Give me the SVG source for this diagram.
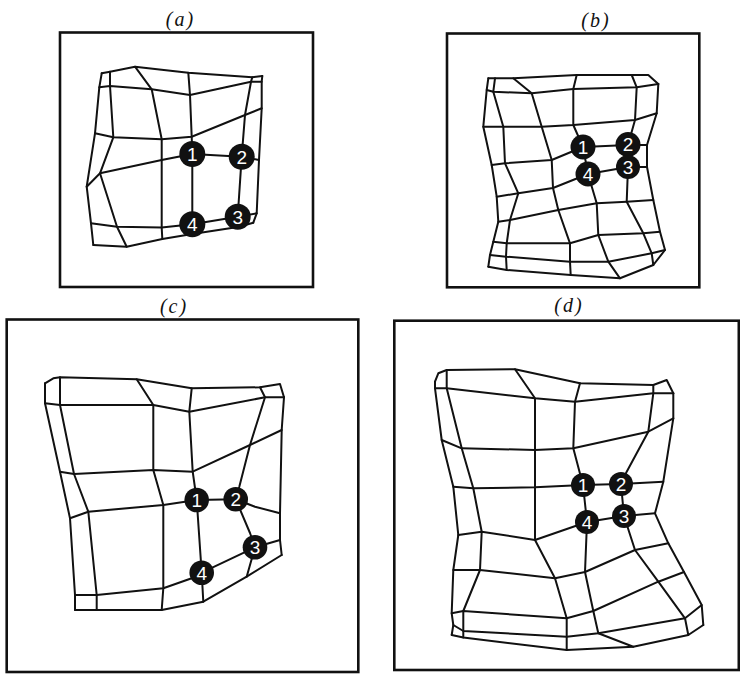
<svg xmlns="http://www.w3.org/2000/svg" width="740" height="674" viewBox="0 0 740 674">
<style>
.frame{fill:none;stroke:#111;stroke-width:2.6}
.mesh polyline{fill:none;stroke:#111;stroke-width:2;stroke-linejoin:round;stroke-linecap:round}
.node circle{fill:#111}
.node text{fill:#fff;font-family:"Liberation Sans",Arial,sans-serif;font-size:19px;text-anchor:middle}
.lbl{font-family:"Liberation Serif","Times New Roman",serif;font-style:italic;font-size:20px;letter-spacing:2px;text-anchor:middle;fill:#111}
</style>
<rect width="740" height="674" fill="#fff"/>

<g id="panel-a">
<text class="lbl" x="180.5" y="26">(a)</text>
<rect class="frame" x="60" y="32.5" width="253" height="254.5"/>
<g class="mesh" id="mesh-a">
<polyline points="101.7,73.3 110,71.7 135,66.7 188.3,72.7 252.3,77.3 262.3,76"/>
<polyline points="99.3,87.3 110,86 151.7,89.3 190,95 251,81.7 261.7,81.7"/>
<polyline points="95,133.3 113.3,137.3 161.7,139.3 191.7,136.7 245,115 261.7,108.3"/>
<polyline points="86.7,186.7 100,173.3 161.7,160 192.3,154 241.7,156.7 259,160"/>
<polyline points="91,223.3 117,226.7 161.7,227.5 192.3,224.3 237.7,216.7 256.7,213.3"/>
<polyline points="93.3,245 126.7,246.7 162.3,239 192.3,234 238,227 253.3,222.7"/>
<polyline points="101.7,73.3 99.3,87.3 95,133.3 86.7,186.7 91,223.3 93.3,245"/>
<polyline points="110,71.7 110,86 113.3,137.3 100,173.3 117,226.7 126.7,246.7"/>
<polyline points="135,66.7 151.7,89.3 161.7,139.3 161.7,160 161.7,227.5 162.3,239"/>
<polyline points="188.3,72.7 190,95 191.7,136.7 192.3,154 192.3,224.3 192.3,234"/>
<polyline points="252.3,77.3 251,81.7 245,115 241.7,156.7 237.7,216.7 238,227"/>
<polyline points="262.3,76 261.7,81.7 261.7,108.3 259,160 256.7,213.3 253.3,222.7"/>
</g>
<g class="node" id="a-n1"><circle cx="192.3" cy="154" r="13"/><text x="192.3" y="160.8">1</text></g>
<g class="node" id="a-n2"><circle cx="241.7" cy="156.7" r="13"/><text x="241.7" y="163.5">2</text></g>
<g class="node" id="a-n3"><circle cx="237.7" cy="216.7" r="13"/><text x="237.7" y="223.5">3</text></g>
<g class="node" id="a-n4"><circle cx="192.3" cy="224.3" r="13"/><text x="192.3" y="231.1">4</text></g>
</g>

<g id="panel-b">
<text class="lbl" x="596" y="27">(b)</text>
<rect class="frame" x="447" y="33.5" width="252.3" height="253.8"/>
<g class="mesh" id="mesh-b">
<polyline points="488.3,78.3 495,78.3 513.3,78.3 576.7,75 631.7,75 648.3,75 658.3,84"/>
<polyline points="486.7,90 493.3,91.7 531.7,93.3 573.3,89 636.7,87.3 658.3,84"/>
<polyline points="483.3,126.7 503.3,126.7 541.7,126.7 573.3,125 635,120 656.7,113.3"/>
<polyline points="491.7,165 505,163.3 551.7,160 583,147 628,145 647,145"/>
<polyline points="496.7,196.7 518.3,193.3 553,188 588,174 628,167 647,167"/>
<polyline points="498.3,221.7 510,220 558.3,210 596.7,203.3 626.7,201.7 653.3,200"/>
<polyline points="493.3,241.7 506.7,243.3 570,243.3 598.3,235 643.3,233.3 660,231.7"/>
<polyline points="490,255 506,256.7 570,261.7 608.3,261.7 651.7,253.3 665,250"/>
<polyline points="488.3,266.7 506.7,270 570.7,275 620,278.3 653.3,265"/>
<polyline points="488.3,78.3 486.7,90 483.3,126.7 491.7,165 496.7,196.7 498.3,221.7 493.3,241.7 490,255 488.3,266.7"/>
<polyline points="495,78.3 493.3,91.7 503.3,126.7 505,163.3 518.3,193.3 510,220 506.7,243.3 506,256.7 506.7,270"/>
<polyline points="513.3,78.3 531.7,93.3 541.7,126.7 551.7,160 553,188 558.3,210 570,243.3 570,261.7 570.7,275"/>
<polyline points="576.7,75 573.3,89 573.3,125 583,147 588,174 596.7,203.3 598.3,235 608.3,261.7 620,278.3"/>
<polyline points="631.7,75 636.7,87.3 635,120 628,145 628,167 626.7,201.7 643.3,233.3 651.7,253.3 653.3,265"/>
<polyline points="658.3,84 656.7,113.3 647,145 647,167 653.3,200 660,231.7 665,250 653.3,265"/>
</g>
<g class="node" id="b-n1"><circle cx="583" cy="147" r="12.5"/><text x="583" y="153.8">1</text></g>
<g class="node" id="b-n2"><circle cx="628" cy="144.5" r="12.5"/><text x="628" y="151.3">2</text></g>
<g class="node" id="b-n3"><circle cx="628" cy="167" r="12"/><text x="628" y="173.8">3</text></g>
<g class="node" id="b-n4"><circle cx="588" cy="174" r="12.5"/><text x="588" y="180.8">4</text></g>
</g>

<g id="panel-c">
<text class="lbl" x="174" y="313">(c)</text>
<rect class="frame" x="6.7" y="319.5" width="351.6" height="352.5"/>
<g class="mesh" id="mesh-c">
<polyline points="45,383.3 53.3,378.3 60,377.3 136.7,379.3 191.7,388.3 260,387.3 280,384 284,397.3"/>
<polyline points="45,403.3 60,405 153.3,405 189.3,411.7 265,397.3 284,397.3"/>
<polyline points="60,471.7 74,474 153.3,470 192.7,471.7 250,445 281.7,430"/>
<polyline points="70,518.3 88.3,511.7 163.3,505 196.7,500 235.7,499.3 255,506.7 280,513.3"/>
<polyline points="75,595 96.7,595 163.3,588.3 191.7,578.3 201.7,572.7 255,547.3 280,540"/>
<polyline points="75,610 96.7,610 161.7,610 203.3,601.7 246.7,576.7 281.7,555"/>
<polyline points="45,383.3 45,403.3 60,471.7 70,518.3 75,595 75,610"/>
<polyline points="60,377.3 60,405 74,474 88.3,511.7 96.7,595 96.7,610"/>
<polyline points="136.7,379.3 153.3,405 153.3,470 163.3,505 163.3,588.3 161.7,610"/>
<polyline points="191.7,388.3 189.3,411.7 192.7,471.7 196.7,500 201.7,572.7 203.3,601.7"/>
<polyline points="260,387.3 265,397.3 250,445 239.3,486.7 235.7,499.3 250,533 255,547.3 246.7,576.7"/>
<polyline points="284,397.3 281.7,430 280,513.3 280,540 281.7,555"/>
</g>
<g class="node" id="c-n1"><circle cx="196.7" cy="500" r="12.3"/><text x="196.7" y="506.8">1</text></g>
<g class="node" id="c-n2"><circle cx="235.7" cy="499.3" r="12.3"/><text x="235.7" y="506.1">2</text></g>
<g class="node" id="c-n3"><circle cx="255" cy="547.3" r="12.3"/><text x="255" y="554.1">3</text></g>
<g class="node" id="c-n4"><circle cx="201.7" cy="572.7" r="12.3"/><text x="201.7" y="579.5">4</text></g>
</g>

<g id="panel-d">
<text class="lbl" x="569" y="312">(d)</text>
<rect class="frame" x="394.3" y="320.7" width="344.5" height="349.3"/>
<g class="mesh" id="mesh-d">
<polyline points="435,381.7 438.3,373.3 446.7,370 515,369.3 580,383.3 653.3,385 666.7,380 673.3,393.3"/>
<polyline points="435,388.3 446.7,388.3 535,398.3 575,401.7 653.3,393.3 673.3,393.3"/>
<polyline points="441.7,440 461.7,448.3 535,450 573.3,448.3 648.3,431.7 673.3,418.3"/>
<polyline points="453.3,486.7 473.3,488.3 535,487.3 583,485 621,484 663.3,481.7"/>
<polyline points="458.3,535 481.7,531.7 535,540 587,522 624,516 655,513.3"/>
<polyline points="453.3,570 480,570 555,578.3 585,572 635,550 668.3,543.3"/>
<polyline points="451.7,613.3 463.3,611 566.7,618.3 593.3,611 658.3,581.7 684,572"/>
<polyline points="453.3,625 463.3,631 566.7,636.7 598.3,633.3 685,618.3 701.7,605"/>
<polyline points="451.7,635 463.3,637.5 566.7,650 633.3,646.7 688.3,635 703.3,625"/>
<polyline points="435,381.7 435,388.3 441.7,440 453.3,486.7 458.3,535 453.3,570 451.7,613.3 453.3,625 451.7,635"/>
<polyline points="446.7,370 446.7,388.3 461.7,448.3 473.3,488.3 481.7,531.7 480,570 463.3,611 463.3,631 463.3,637.5"/>
<polyline points="515,369.3 535,398.3 535,450 535,487.3 535,540 555,578.3 566.7,618.3 566.7,636.7 566.7,650"/>
<polyline points="580,383.3 575,401.7 573.3,448.3 583,485 587,522 585,572 593.3,611 598.3,633.3 633.3,646.7"/>
<polyline points="653.3,385 653.3,393.3 648.3,431.7 626.7,471.7 621,484 624,516 635,550 658.3,581.7 685,618.3 688.3,635"/>
<polyline points="673.3,393.3 673.3,418.3 663.3,481.7 655,513.3 668.3,543.3 684,572 701.7,605 703.3,625"/>
</g>
<g class="node" id="d-n1"><circle cx="583" cy="485" r="12"/><text x="583" y="491.8">1</text></g>
<g class="node" id="d-n2"><circle cx="621" cy="484" r="12"/><text x="621" y="490.8">2</text></g>
<g class="node" id="d-n3"><circle cx="624" cy="516" r="12"/><text x="624" y="522.8">3</text></g>
<g class="node" id="d-n4"><circle cx="587" cy="522" r="12"/><text x="587" y="528.8">4</text></g>
</g>
</svg>
